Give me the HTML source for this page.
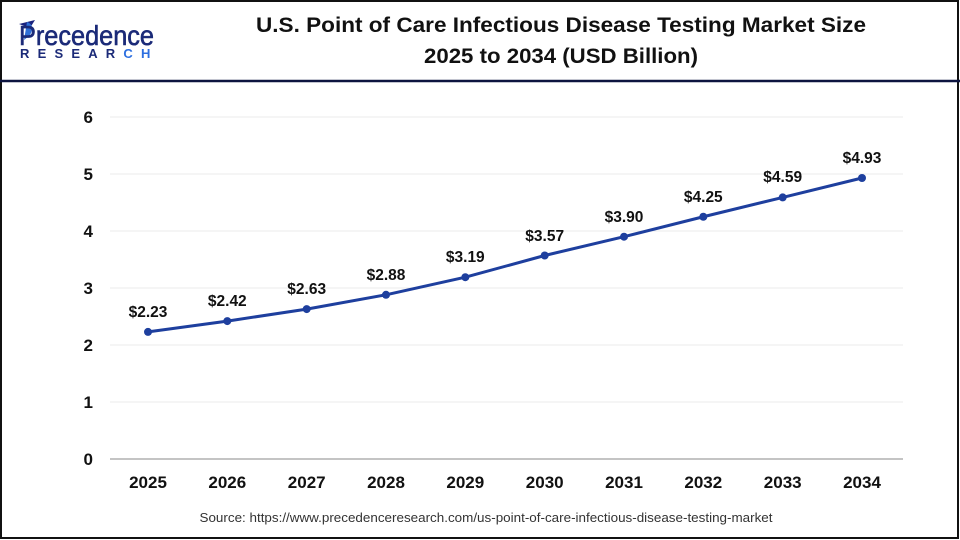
<!DOCTYPE html>
<html><head><meta charset="utf-8"><style>
html,body{margin:0;padding:0;background:#fff}
svg{display:block}
text{font-family:"Liberation Sans",Arial,sans-serif}
</style></head><body>
<svg width="960" height="540" viewBox="0 0 960 540" xmlns="http://www.w3.org/2000/svg">
<rect x="0" y="0" width="960" height="540" fill="#fff"/>
<rect x="1" y="1" width="957" height="537" fill="none" stroke="#111" stroke-width="2"/>
<line x1="0" y1="81" x2="960" y2="81" stroke="#0d1440" stroke-width="2.5"/>
<!-- logo -->
<g>
<path d="M19 24 L35 20 L30 28 Z" fill="#1a237e"/>
<path d="M27 22 C33 24 34 30 29 36 L24 40 Z" fill="#2f6fd6"/>
<text x="19" y="45" font-size="28" fill="#1b2a78" stroke="#1b2a78" stroke-width="0.6" textLength="135" lengthAdjust="spacingAndGlyphs">Precedence</text>
<text x="20" y="58" font-size="13" font-weight="bold" fill="#1b2a78" letter-spacing="8.2">RESEAR<tspan fill="#2d6fe0">CH</tspan></text>
</g>
<!-- title -->
<text x="561" y="32" font-size="21" font-weight="bold" text-anchor="middle" fill="#111" textLength="610" lengthAdjust="spacingAndGlyphs">U.S. Point of Care Infectious Disease Testing Market Size</text>
<text x="561" y="63" font-size="21" font-weight="bold" text-anchor="middle" fill="#111" textLength="274" lengthAdjust="spacingAndGlyphs">2025 to 2034 (USD Billion)</text>
<!-- gridlines -->
<g stroke="#ebebeb" stroke-width="1">
<line x1="110" y1="117" x2="903" y2="117"/>
<line x1="110" y1="174" x2="903" y2="174"/>
<line x1="110" y1="231" x2="903" y2="231"/>
<line x1="110" y1="288" x2="903" y2="288"/>
<line x1="110" y1="345" x2="903" y2="345"/>
<line x1="110" y1="402" x2="903" y2="402"/>
</g>
<line x1="110" y1="459" x2="903" y2="459" stroke="#c4c4c4" stroke-width="2"/>
<!-- y labels -->
<g font-size="17" font-weight="bold" text-anchor="end" fill="#111">
<text x="93" y="123">6</text>
<text x="93" y="180">5</text>
<text x="93" y="237">4</text>
<text x="93" y="294">3</text>
<text x="93" y="351">2</text>
<text x="93" y="408">1</text>
<text x="93" y="465">0</text>
</g>
<!-- x labels -->
<g font-size="17" font-weight="bold" text-anchor="middle" fill="#111">
<text x="148" y="488">2025</text>
<text x="227.3" y="488">2026</text>
<text x="306.7" y="488">2027</text>
<text x="386" y="488">2028</text>
<text x="465.3" y="488">2029</text>
<text x="544.7" y="488">2030</text>
<text x="624" y="488">2031</text>
<text x="703.3" y="488">2032</text>
<text x="782.7" y="488">2033</text>
<text x="862" y="488">2034</text>
</g>
<!-- series -->
<polyline fill="none" stroke="#1e3f9e" stroke-width="3" stroke-linejoin="round" points="148,331.9 227.3,321.1 306.7,309.1 386,294.8 465.3,277.2 544.7,255.5 624,236.7 703.3,216.75 782.7,197.4 862,178"/>
<g fill="#1e3f9e">
<circle cx="148" cy="331.9" r="4"/>
<circle cx="227.3" cy="321.1" r="4"/>
<circle cx="306.7" cy="309.1" r="4"/>
<circle cx="386" cy="294.8" r="4"/>
<circle cx="465.3" cy="277.2" r="4"/>
<circle cx="544.7" cy="255.5" r="4"/>
<circle cx="624" cy="236.7" r="4"/>
<circle cx="703.3" cy="216.75" r="4"/>
<circle cx="782.7" cy="197.4" r="4"/>
<circle cx="862" cy="178" r="4"/>
</g>
<g font-size="15.5" font-weight="bold" text-anchor="middle" fill="#111">
<text x="148" y="317">$2.23</text>
<text x="227.3" y="306">$2.42</text>
<text x="306.7" y="294">$2.63</text>
<text x="386" y="280">$2.88</text>
<text x="465.3" y="262">$3.19</text>
<text x="544.7" y="241">$3.57</text>
<text x="624" y="222">$3.90</text>
<text x="703.3" y="202">$4.25</text>
<text x="782.7" y="182">$4.59</text>
<text x="862" y="163">$4.93</text>
</g>
<text x="486" y="522" font-size="13" text-anchor="middle" fill="#333" textLength="573" lengthAdjust="spacingAndGlyphs">Source: https://www.precedenceresearch.com/us-point-of-care-infectious-disease-testing-market</text>
</svg>
</body></html>
